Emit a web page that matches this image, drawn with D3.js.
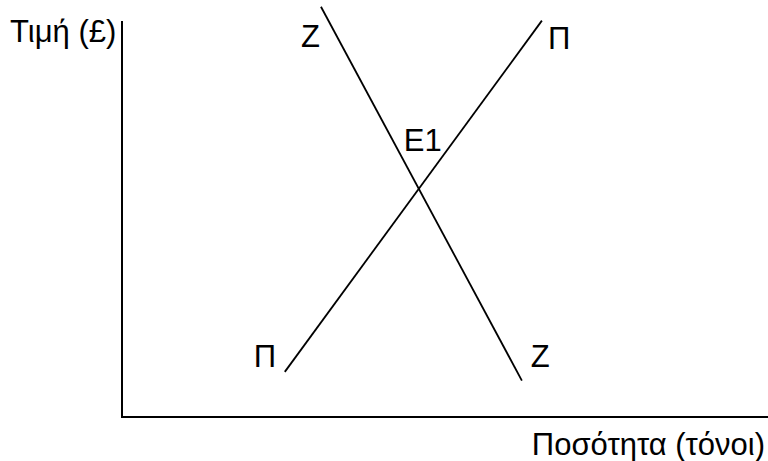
<!DOCTYPE html>
<html>
<head>
<meta charset="utf-8">
<script src="https://cdn.jsdelivr.net/npm/d3@7"></script>
<style>
  body { margin: 0; background: #fff; }
  svg text { font-family: "Liberation Sans", Arial, sans-serif; font-size: 31px; fill: #000; }
</style>
</head>
<body>
<svg width="768" height="461"></svg>
<script>
// schematic values (quantity 0-100, price 0-100)
const demand = [{q: 30.8, p: 103.6}, {q: 61.9, p: 9.2}];   // Z
const supply = [{q: 25.2, p: 11.4}, {q: 65.0, p: 100.1}];  // Π
const axisTitles = ["Τιμή (£)", "Ποσότητα (τόνοι)"];
const eqLabel = "E1";

const svg = d3.select("svg"),
    width = +svg.attr("width"),
    height = +svg.attr("height");

const x = d3.scaleLinear().domain([0, 100]).range([122, 768]);
const y = d3.scaleLinear().domain([0, 100]).range([417, 21]);

const line = d3.line()
    .x(d => x(d.q))
    .y(d => y(d.p));

// axes
svg.append("line")
    .attr("x1", x(0)).attr("x2", x(0))
    .attr("y1", y(100)).attr("y2", y(0) + 1)
    .attr("stroke", "#000").attr("stroke-width", 2);
svg.append("line")
    .attr("x1", x(0) - 1).attr("x2", x(100))
    .attr("y1", y(0)).attr("y2", y(0))
    .attr("stroke", "#000").attr("stroke-width", 2);

svg.append("text").attr("x", 10).attr("y", 42).text(axisTitles[0]);
svg.append("text").attr("x", 765).attr("y", 455)
    .attr("text-anchor", "end").text(axisTitles[1]);

// curves
svg.selectAll("path.curve")
    .data([demand, supply])
    .enter().append("path")
    .attr("class", "curve")
    .attr("d", line)
    .attr("fill", "none")
    .attr("stroke", "#000")
    .attr("stroke-width", 1.8);

// curve end labels
const lab = (d, txt, dx, dy) => svg.append("text")
    .attr("x", x(d.q) + dx).attr("y", y(d.p) + dy).text(txt);
lab(demand[0], "Z", -20, 40);
lab(demand[1], "Z", 9, -14);
lab(supply[0], "Π", -31, -5);
lab(supply[1], "Π", 6, 28);

// equilibrium (intersection of the two lines)
const sD = (demand[1].p - demand[0].p) / (demand[1].q - demand[0].q),
      sS = (supply[1].p - supply[0].p) / (supply[1].q - supply[0].q);
const qE = (supply[0].p - demand[0].p + sD * demand[0].q - sS * supply[0].q) / (sD - sS);
const pE = demand[0].p + sD * (qE - demand[0].q);
lab({q: qE, p: pE}, eqLabel, -15, -38);
</script>
</body>
</html>
